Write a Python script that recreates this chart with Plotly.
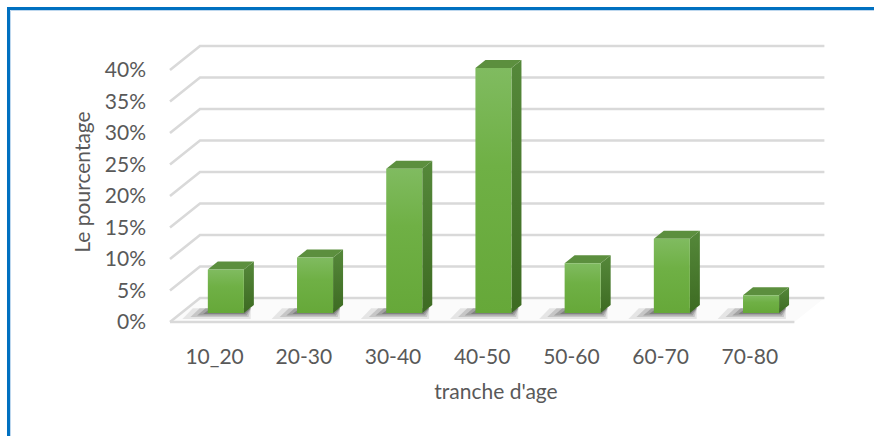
import plotly.graph_objects as go

# Share of respondents per age bracket (%)
categories = ["10_20", "20-30", "30-40", "40-50", "50-60", "60-70", "70-80"]
percentages = [6.9, 8.8, 22.9, 38.9, 7.9, 11.8, 2.8]
y_ticks = [0, 5, 10, 15, 20, 25, 30, 35, 40]

W, H = 874, 436
L, R, T, B = 150, 842, 28, 336          # plot-area box in pixels

PX_X = 89.2      # pixels per category step on the front plane
PX_Y = 6.3       # pixels per percent on the front plane
X0_PX = 170      # front-left corner of the floor (category -0.5)
Y0_PX = 322      # front edge of the floor (0 %)

x_range = [-0.5 - (X0_PX - L) / PX_X, -0.5 + (R - X0_PX) / PX_X]
y_range = [-(B - Y0_PX) / PX_Y, (Y0_PX - T) / PX_Y]

# oblique depth vector of the whole floor, in data units
KX = 30 / PX_X
KY = 24 / PX_Y
F0, F1 = 0.375, 0.708    # bar front / back depth fraction
HALF_W = 0.202           # half bar width

n = len(categories)
x_lo, x_hi = -0.5, n - 0.5

GRID = "#d9d9d9"
TEXT = "#595959"
FONT = "Lato"

fig = go.Figure()

# floor
fig.add_trace(go.Scatter(
    x=[x_lo, x_hi, x_hi + KX, x_lo + KX, x_lo],
    y=[0, 0, KY, KY, 0],
    fill="toself", fillcolor="#fbfbfb", mode="lines",
    line=dict(width=0), hoverinfo="skip", showlegend=False))

# side wall + back wall gridlines, floor front edge
gx, gy = [], []
for v in y_ticks:
    gx += [x_lo, x_lo + KX, x_hi + KX, None]
    gy += [v, v + KY, v + KY, None]
gx += [x_lo, x_hi, None]
gy += [0, 0, None]
fig.add_trace(go.Scatter(x=gx, y=gy, mode="lines",
                         line=dict(color=GRID, width=2.6),
                         hoverinfo="skip", showlegend=False))

dxb, dyb = (F1 - F0) * KX, (F1 - F0) * KY

# soft shadows on the floor
for i, v in enumerate(percentages):
    cx = i + F0 * KX
    xl, xr = cx - HALF_W, cx + HALF_W
    y0 = F0 * KY
    for k, a in [(0.19, 0.10), (0.13, 0.16), (0.08, 0.22), (0.035, 0.28)]:
        sx = [xl - k * 1.5, xr + k * 0.4, xr + dxb * 0.7, xl + dxb * 0.7 - k * 1.3, xl - k * 1.5]
        sy = [y0 - k * 5, y0 - k * 5, y0 + dyb * 0.6, y0 + dyb * 0.6, y0 - k * 5]
        fig.add_trace(go.Scatter(x=sx, y=sy, fill="toself",
                                 fillcolor=f"rgba(40,40,40,{a})", mode="lines",
                                 line=dict(width=0), hoverinfo="skip",
                                 showlegend=False))

# 3-D columns
for i, v in enumerate(percentages):
    cx = i + F0 * KX
    xl, xr = cx - HALF_W, cx + HALF_W
    y0 = F0 * KY
    y1 = y0 + v
    # right side face
    fig.add_trace(go.Scatter(
        x=[xr, xr + dxb, xr + dxb, xr, xr],
        y=[y0, y0 + dyb, y1 + dyb, y1, y0],
        fill="toself", mode="lines", line=dict(width=0),
        fillgradient=dict(type="vertical", start=y0, stop=y1 + dyb,
                          colorscale=[[0, "#3d6b22"], [1, "#55883a"]]),
        hoverinfo="skip", showlegend=False))
    # top face
    fig.add_trace(go.Scatter(
        x=[xl, xr, xr + dxb, xl + dxb, xl],
        y=[y1, y1, y1 + dyb, y1 + dyb, y1],
        fill="toself", fillcolor="#5c8f3e", mode="lines",
        line=dict(width=0), hoverinfo="skip", showlegend=False))
    # front face
    fig.add_trace(go.Scatter(
        x=[xl, xr, xr, xl, xl],
        y=[y0, y0, y1, y1, y0],
        fill="toself", mode="lines", line=dict(width=0),
        fillgradient=dict(type="vertical", start=y0, stop=y1,
                          colorscale=[[0, "#66a839"], [0.6, "#6fb045"], [1, "#80bb60"]]),
        name=categories[i], hovertemplate=f"{categories[i]}: {v}%<extra></extra>",
        showlegend=False))


def px_to_paper_x(px):
    return (px - L) / (R - L)


def px_to_paper_y(py):
    return (B - py) / (B - T)


def frame_path(inset):
    # open polyline: down the left edge, along the top edge
    pts = [(inset, H + 4), (inset, inset), (W + 4, inset)]
    return "M " + " L ".join(f"{px_to_paper_x(x):.5f},{px_to_paper_y(y):.5f}" for x, y in pts)


shapes = [
    dict(type="path", xref="paper", yref="paper", path=frame_path(8.5),
         line=dict(color="#0070c0", width=3), fillcolor="rgba(0,0,0,0)", layer="above"),
    dict(type="path", xref="paper", yref="paper", path=frame_path(10.5),
         line=dict(color="#bdd7ee", width=1), fillcolor="rgba(0,0,0,0)", layer="above"),
]

fig.update_layout(
    width=W, height=H,
    margin=dict(l=L, r=W - R, t=T, b=H - B, pad=0),
    paper_bgcolor="white", plot_bgcolor="white",
    font=dict(family=FONT, size=21, color=TEXT),
    showlegend=False,
    shapes=shapes,
    xaxis=dict(range=x_range, tickmode="array", tickvals=list(range(n)),
               ticktext=categories, showgrid=False, zeroline=False,
               showline=False, ticks="", ticklabelstandoff=6,
               tickfont=dict(family=FONT, size=21, color=TEXT),
               title=dict(text="tranche d'age", standoff=17,
                          font=dict(family=FONT, size=21, color=TEXT)),
               fixedrange=True),
    yaxis=dict(range=y_range, tickmode="array", tickvals=y_ticks,
               ticktext=[f"{t}%" for t in y_ticks], showgrid=False,
               zeroline=False, showline=False, ticks="",
               ticklabelstandoff=3,
               tickfont=dict(family=FONT, size=21, color=TEXT),
               title=dict(text="Le pourcentage", standoff=8,
                          font=dict(family=FONT, size=21, color=TEXT)),
               fixedrange=True),
)

fig.write_html("out.html", config={"displayModeBar": False})
